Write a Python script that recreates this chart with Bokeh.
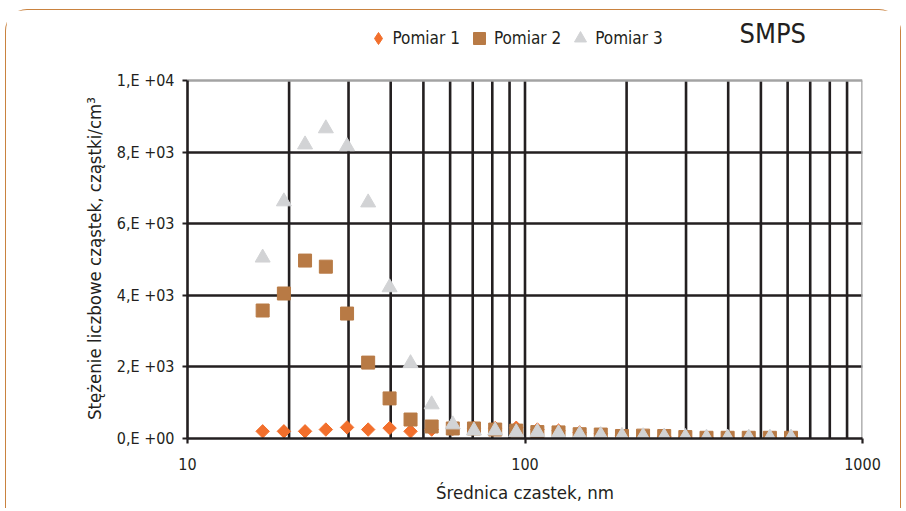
import math
from bokeh.plotting import figure
from bokeh.models import FixedTicker, Legend, LegendItem, Label, Title, ColumnDataSource
from bokeh.embed import file_html
from bokeh.resources import INLINE

# ---- data ----
diameter_nm = [16.7, 19.3, 22.3, 25.7, 29.7, 34.3, 39.7, 45.8, 52.9, 61.1, 70.6, 81.6, 94.2,
               108.8, 125.7, 145.2, 167.7, 193.8, 223.8, 258.5, 298.6, 345.0, 398.5, 460.2,
               531.6, 614.1]
pomiar_1 = [200, 200, 200, 250, 310, 250, 290, 200, 250, 270, 290, 290, 300,
            250, 220, 170, 130, 90, 70, 60, 40, 30, 25, 20, 20, 20]
pomiar_2 = [3575, 4050, 4970, 4800, 3490, 2120, 1120, 530, 335, 280, 280, 250, 220,
            180, 170, 120, 110, 70, 80, 70, 40, 20, 20, 20, 20, 20]
pomiar_3 = [5050, 6620, 8210, 8660, 8160, 6590, 4220, 2100, 950, 390, 220, 220, 170,
            180, 140, 110, 90, 70, 60, 50, 40, 20, 20, 20, 20, 20]
series_names = ["Pomiar 1", "Pomiar 2", "Pomiar 3"]

y_ticks = [0, 2000, 4000, 6000, 8000, 10000]
y_tick_labels = ["0,E +00", "2,E +03", "4,E +03", "6,E +03", "8,E +03", "1,E +04"]
y_grid_ticks = [2000, 4000, 6000, 8000]
x_ticks = [10, 100, 1000]
x_tick_labels = ["10", "100", "1000"]
x_grid_ticks = [20, 30, 40, 50, 60, 70, 80, 90, 100, 200, 300, 400, 500, 600, 700, 800, 900]

title_text = "SMPS"
x_label = "Średnica czastek, nm"
y_label = "Stężenie liczbowe cząstek, cząstki/cm³"

# ---- style ----
FONT = "DejaVu Sans Condensed"
TXT = "#231f20"
GRID = "#231f20"
EDGE = "#a3a3a3"
C1, C2, C3 = "#f26f2c", "#b87a45", "#d2d3d5"
BORDER = "1.5px solid #c9823f"

# frame: 358 px for the 0..1e4 data span, plus headroom above for legend/title
FRAME_H, PLOT_H = 423, 358
y_top = y_ticks[-1] * FRAME_H / PLOT_H

src = ColumnDataSource(dict(x=diameter_nm, p1=pomiar_1, p2=pomiar_2, p3=pomiar_3))

p = figure(width=896, height=499, x_axis_type="log", x_range=(x_ticks[0], x_ticks[-1]),
           y_range=(y_ticks[0], y_top),
           output_backend="svg", toolbar_location=None,
           min_border_left=181, min_border_right=40, min_border_top=5, min_border_bottom=71)
p.styles = {"margin-left": "5px", "margin-top": "9px",
            "border-top": BORDER, "border-left": BORDER, "border-right": BORDER,
            "border-top-left-radius": "22px", "border-top-right-radius": "22px"}

p.background_fill_color = "white"
p.border_fill_color = "white"
p.outline_line_color = None

# grids (vertical grid lines stop at the top of the data span)
p.xgrid.visible = False
p.ygrid.ticker = FixedTicker(ticks=y_grid_ticks)
p.ygrid.grid_line_color = GRID
p.ygrid.grid_line_width = 2.6
n = len(x_grid_ticks)
p.segment(x0=x_grid_ticks, y0=[y_ticks[0]] * n, x1=x_grid_ticks, y1=[y_ticks[-1]] * n,
          line_color=GRID, line_width=2.6)
# grey plot-area edge: top and right
p.segment(x0=[x_ticks[0], x_ticks[-1]], y0=[y_ticks[-1], y_ticks[0]],
          x1=[x_ticks[-1], x_ticks[-1]], y1=[y_ticks[-1], y_ticks[-1]],
          line_color=EDGE, line_width=2.6)

# axes
p.xaxis.ticker = FixedTicker(ticks=x_ticks, minor_ticks=[])
p.xaxis.major_label_overrides = {t: l for t, l in zip(x_ticks, x_tick_labels)}
p.yaxis.ticker = FixedTicker(ticks=y_ticks, minor_ticks=[])
p.yaxis.major_label_overrides = {t: l for t, l in zip(y_ticks, y_tick_labels)}
p.yaxis.bounds = (y_ticks[0], y_ticks[-1])
for ax in (p.xaxis, p.yaxis):
    ax.axis_line_color = GRID
    ax.axis_line_width = 2.6
    ax.major_tick_line_color = GRID
    ax.major_tick_line_width = 2.2
    ax.major_tick_out = 5
    ax.major_tick_in = 0
    ax.minor_tick_line_color = None
    ax.major_label_text_font = FONT
    ax.major_label_text_font_size = "16px"
    ax.major_label_text_color = TXT
    ax.axis_label_text_font = FONT
    ax.axis_label_text_font_style = "normal"
    ax.axis_label_text_color = TXT
p.xaxis.axis_label = x_label
p.xaxis.axis_label_text_font_size = "18.5px"
p.xaxis.major_label_standoff = 14
p.xaxis.axis_label_standoff = 9
p.yaxis.major_label_standoff = 8

# y-axis title, anchored from the bottom of the plot area
p.add_layout(Title(text=y_label, align="left", offset=18.5, vertical_align="bottom",
                   standoff=18, text_font=FONT, text_font_size="18.5px",
                   text_font_style="normal", text_color=TXT), "left")

# markers
r1 = p.scatter("x", "p1", source=src, marker="square", angle=math.pi / 4, size=9.5,
               fill_color=C1, line_color=C1)
r2 = p.scatter("x", "p2", source=src, marker="square", size=13,
               fill_color=C2, line_color=C2)
r3 = p.scatter("x", "p3", source=src, marker="triangle", size=15,
               fill_color=C3, line_color=C3)
# legend swatch for the diamond series (legend glyphs ignore the marker angle)
r1_key = p.scatter("x", "p1", source=src, marker="diamond", fill_color=C1, line_color=C1,
                   visible=False)

legend = Legend(items=[LegendItem(label=nm, renderers=[r]) for nm, r in zip(series_names, (r1_key, r2, r3))],
                orientation="horizontal", location=(175.5, 385.5),
                glyph_width=30, glyph_height=30, label_standoff=0, spacing=4,
                padding=0, margin=0, border_line_color=None, background_fill_alpha=0,
                label_text_font=FONT, label_text_font_size="17px", label_text_color=TXT)
p.add_layout(legend, "center")

p.add_layout(Label(x=552, y=405.5, x_units="screen", y_units="screen", text=title_text,
                   text_font=FONT, text_font_size="27px", text_color=TXT,
                   text_baseline="alphabetic", text_align="left"))

open("out.html", "w").write(file_html(p, INLINE))
